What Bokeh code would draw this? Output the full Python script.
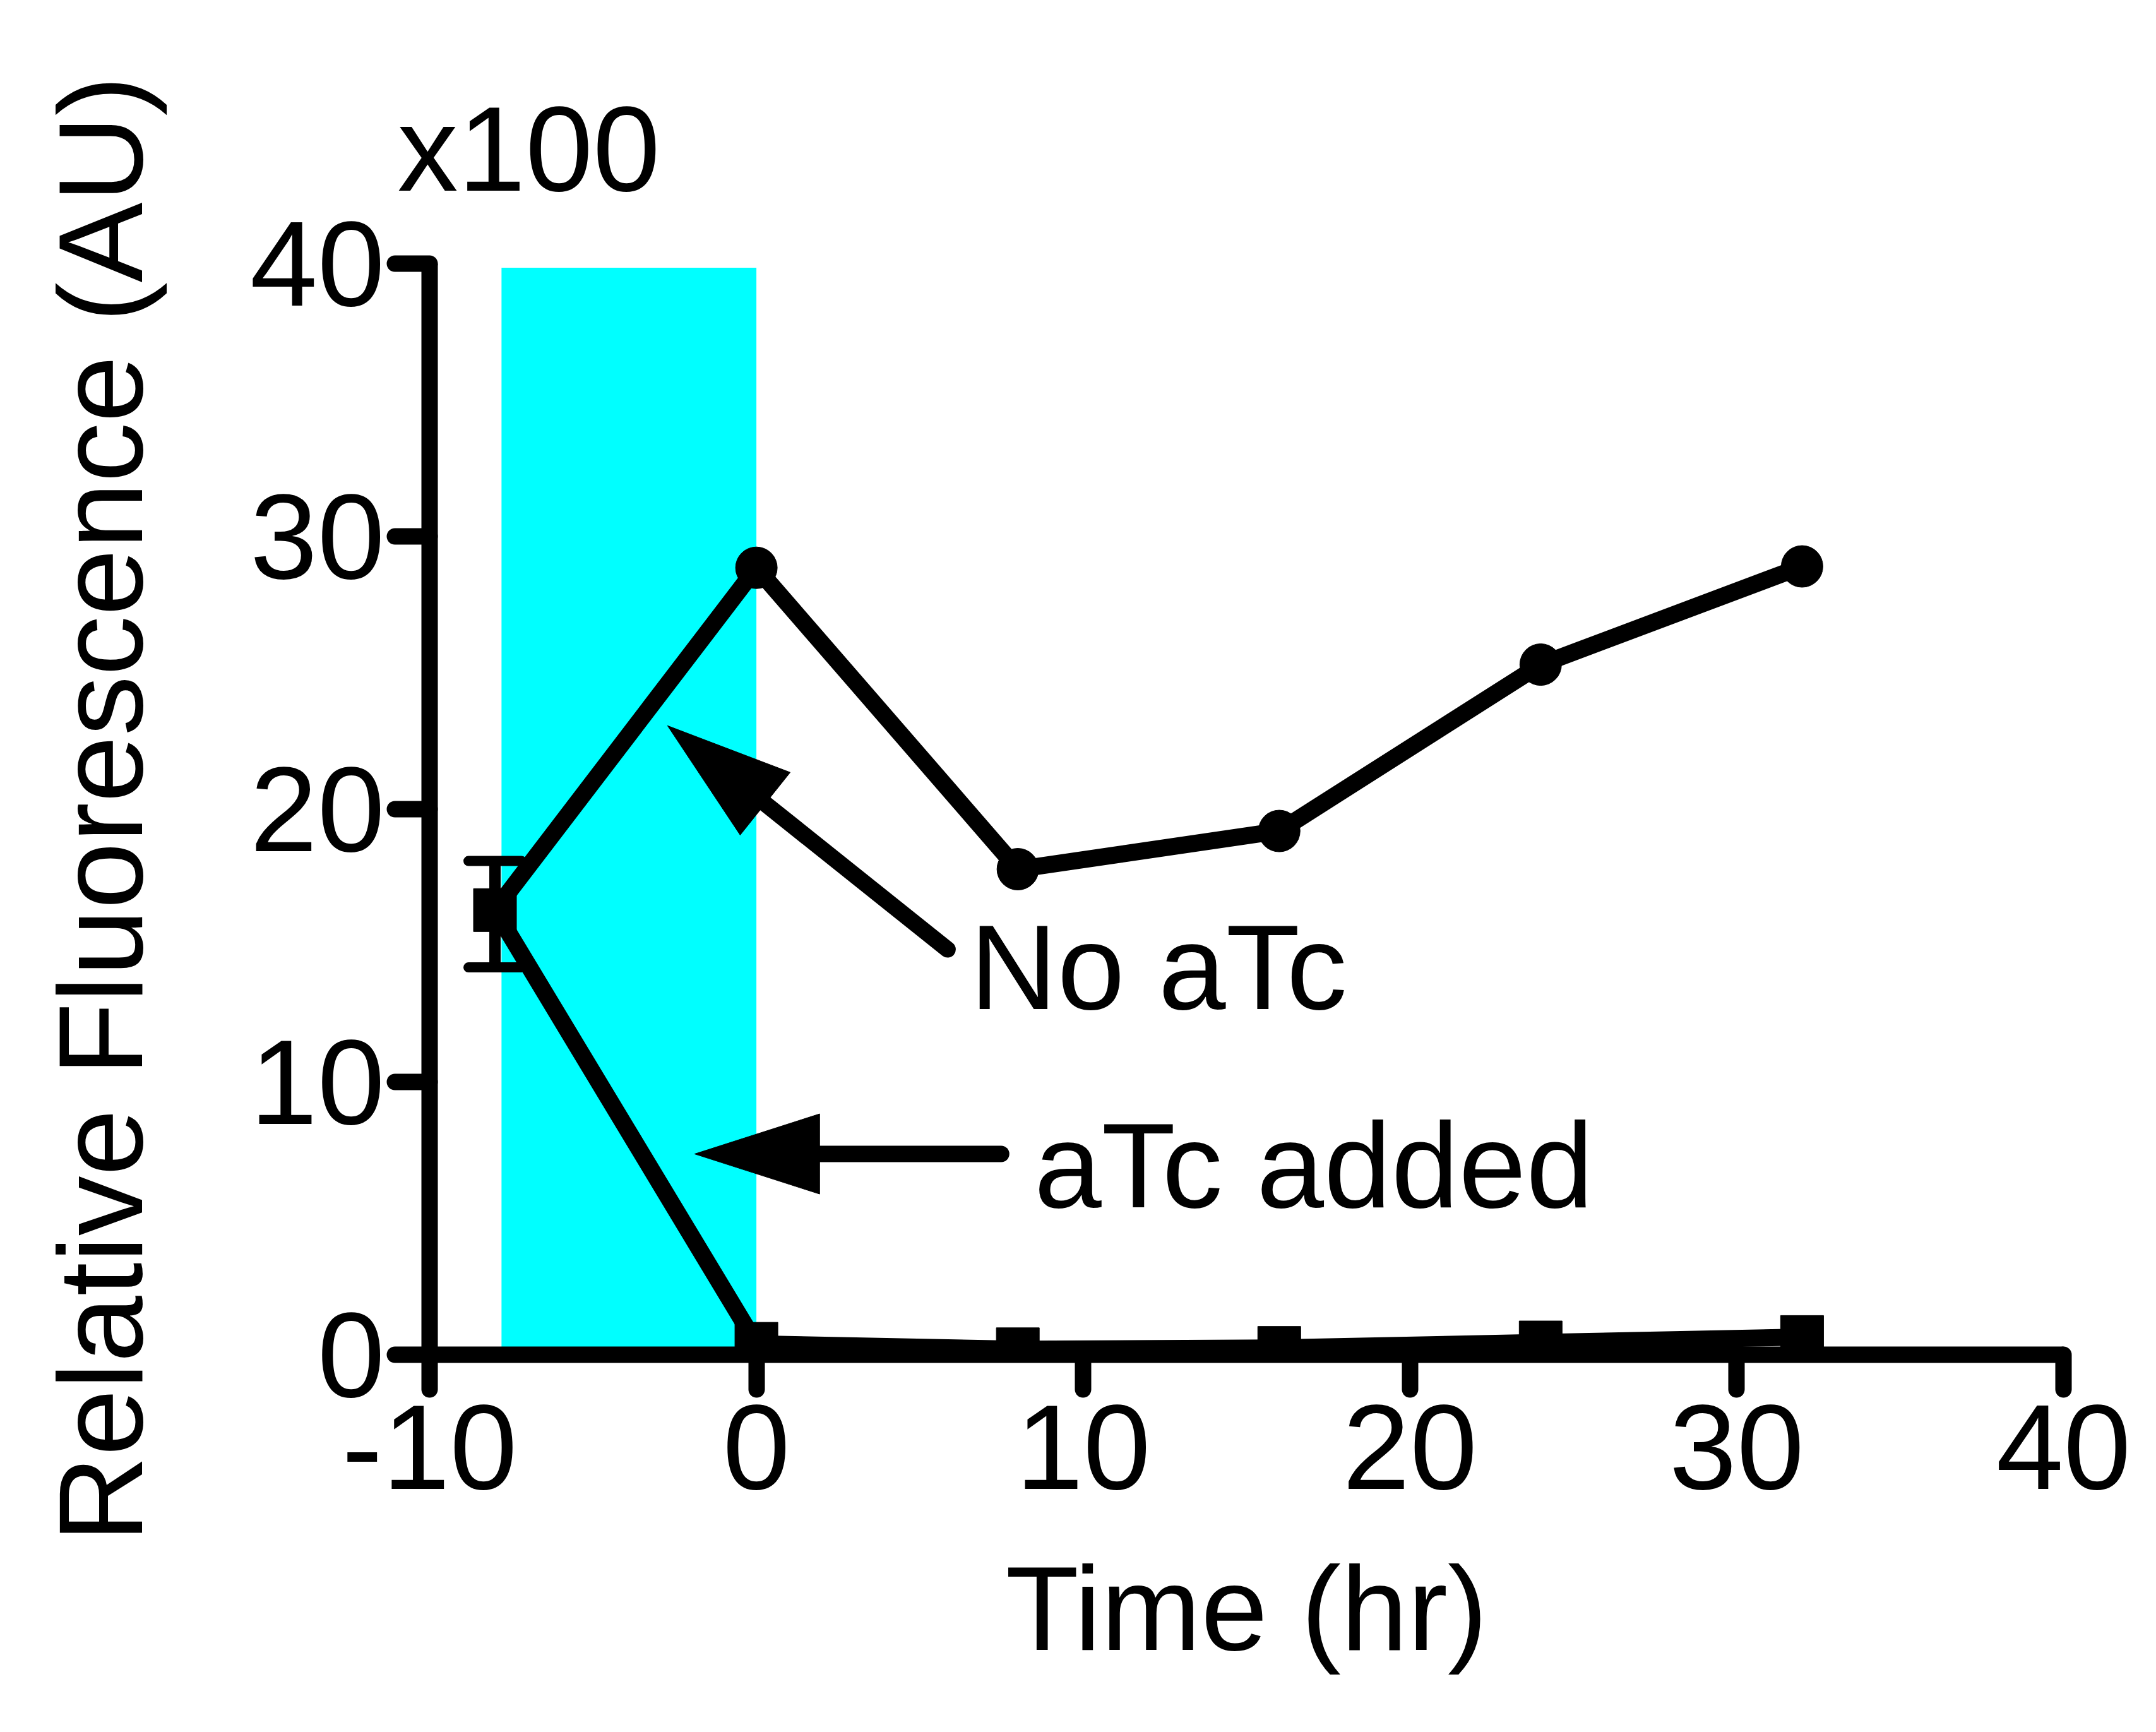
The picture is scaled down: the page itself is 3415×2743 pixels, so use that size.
import math
from bokeh.plotting import figure
from bokeh.models import (Range1d, FixedTicker, Label, ColumnDataSource, Whisker, TeeHead)
from bokeh.embed import file_html
from bokeh.resources import INLINE

# ---------------- data ----------------
time_hr = [-8, 0, 8, 16, 24, 32]
no_atc = [16.3, 28.85, 17.8, 19.2, 25.3, 28.9]
atc_added = [16.3, 0.4, 0.2, 0.25, 0.45, 0.65]
err_time = [-8]
err_low = [14.2]
err_high = [18.1]
atc_window = [-7.8, 0.0]          # cyan shaded period (hr)
atc_window_top = 39.85

x_ticks = [-10, 0, 10, 20, 30, 40]
x_tick_labels = ["-10", "0", "10", "20", "30", "40"]
y_ticks = [0, 10, 20, 30, 40]
y_tick_labels = ["0", "10", "20", "30", "40"]

# ---------------- layout ----------------
W, H = 3399, 2727
X0, X1 = -10, 40
Y0, Y1 = 0, 40
FRAME_W = 2588
FRAME_H = 1728
BL, BT = 680, 417
BR = W - BL - FRAME_W
BB = H - BT - FRAME_H
PX_X = FRAME_W / (X1 - X0)
PX_Y = FRAME_H / (Y1 - Y0)

FONT = "Liberation Sans"
FS = "192px"
LABEL_DY = 64   # pixel correction for label baseline placement

p = figure(width=W, height=H, output_backend="svg", toolbar_location=None,
           x_range=Range1d(X0, X1), y_range=Range1d(Y0, Y1),
           min_border_left=BL, min_border_right=BR,
           min_border_top=BT, min_border_bottom=BB)
p.outline_line_color = None
p.grid.visible = False
p.background_fill_color = "white"
p.border_fill_color = "white"

# multiplier note "x100" above the y axis
p.title.text = "x100"
p.title.text_font = FONT
p.title.text_font_size = FS
p.title.text_font_style = "normal"
p.title.text_color = "black"
p.title.align = "left"
p.title.offset = -51
p.title.standoff = 150

# shaded aTc period
p.quad(left=[atc_window[0]], right=[atc_window[1]], bottom=[0], top=[atc_window_top],
       fill_color="#00FFFF", line_color=None)

# error bar
src_err = ColumnDataSource(dict(x=err_time, lo=err_low, hi=err_high))
w = Whisker(source=src_err, base="x", lower="lo", upper="hi", dimension="height",
            line_width=18, line_color="black",
            upper_head=TeeHead(size=84, line_width=16, line_color="black", line_cap="round"),
            lower_head=TeeHead(size=84, line_width=16, line_color="black", line_cap="round"))
w.level = "glyph"
p.add_layout(w)

# series
p.line(time_hr, no_atc, line_width=27, line_color="black", line_join="miter")
p.line(time_hr, atc_added, line_width=27, line_color="black", line_join="miter")
p.scatter(time_hr, no_atc, marker="circle", size=66, fill_color="black", line_color="black")
p.scatter(time_hr, atc_added, marker="square", size=68, fill_color="black", line_color="black")

# arrows (annotation geometry)
HEAD_LEN = 198
HEAD_W = 127
arrows = [
    dict(tail=(5.85, 14.86), tip=(-2.72, 23.06)),
    dict(tail=(7.49, 7.36), tip=(-1.89, 7.36)),
]
for a in arrows:
    (tx, ty), (hx, hy) = a["tail"], a["tip"]
    dxp = (hx - tx) * PX_X
    dyp = (hy - ty) * PX_Y
    n = math.hypot(dxp, dyp)
    ux, uy = dxp / n, dyp / n
    bx = hx - ux * HEAD_LEN / PX_X
    by = hy - uy * HEAD_LEN / PX_Y
    px_, py_ = -uy, ux
    c1 = (bx + px_ * HEAD_W / 2 / PX_X, by + py_ * HEAD_W / 2 / PX_Y)
    c2 = (bx - px_ * HEAD_W / 2 / PX_X, by - py_ * HEAD_W / 2 / PX_Y)
    p.segment(x0=[tx], y0=[ty], x1=[bx], y1=[by], line_width=26,
              line_color="black", line_cap="round")
    p.patch([hx, c1[0], c2[0]], [hy, c1[1], c2[1]], fill_color="black", line_color="black")

# text annotations
for txt, x, y in [("No aTc", 6.53, 12.74), ("aTc added", 8.50, 5.46)]:
    p.add_layout(Label(x=x, y=y, y_offset=LABEL_DY, text=txt, text_font=FONT,
                       text_font_size=FS, text_color="black",
                       text_baseline="alphabetic", text_align="left"))

# axes
for ax in (p.xaxis[0], p.yaxis[0]):
    ax.axis_line_width = 26
    ax.axis_line_color = "black"
    ax.major_tick_line_width = 26
    ax.major_tick_line_color = "black"
    ax.major_tick_line_cap = "round"
    ax.major_tick_in = 0
    ax.major_tick_out = 55
    ax.minor_tick_line_color = None
    ax.major_label_text_font = FONT
    ax.major_label_text_font_size = FS
    ax.major_label_text_color = "black"
    ax.axis_label_text_font = FONT
    ax.axis_label_text_font_size = "190px"
    ax.axis_label_text_font_style = "normal"
    ax.axis_label_text_color = "black"

p.xaxis[0].ticker = FixedTicker(ticks=x_ticks)
p.xaxis[0].major_label_overrides = {t: s for t, s in zip(x_ticks, x_tick_labels)}
p.yaxis[0].ticker = FixedTicker(ticks=y_ticks)
p.yaxis[0].major_label_overrides = {t: s for t, s in zip(y_ticks, y_tick_labels)}
p.xaxis[0].axis_label = "Time (hr)"
p.yaxis[0].axis_label = "Relative Fluorescence (AU)"
p.xaxis[0].major_label_standoff = 25
p.yaxis[0].major_label_standoff = 16
p.xaxis[0].axis_label_standoff = 80
p.yaxis[0].axis_label_standoff = 128

open("out.html", "w").write(file_html(p, INLINE))
